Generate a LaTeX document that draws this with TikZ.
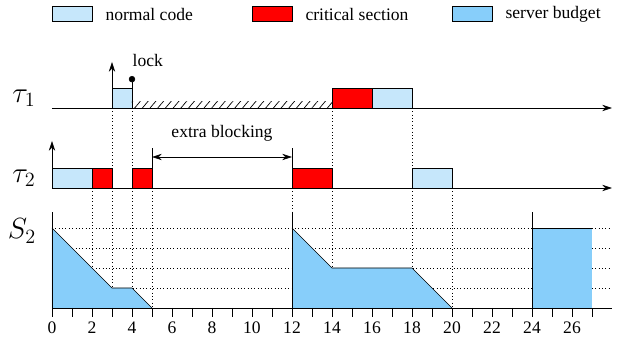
\documentclass[tikz,border=0pt]{standalone}
\usepackage{fontspec}
\newfontfamily\timesfont{LiberationSerif}[Extension=.ttf, UprightFont=*-Regular]
\usetikzlibrary{arrows.meta}
\usetikzlibrary{positioning}
\usetikzlibrary{patterns.meta}

\definecolor{normalblue}{RGB}{198,231,251}
\definecolor{budgetblue}{RGB}{135,206,250}
\definecolor{critred}{RGB}{255,0,0}

\begin{document}
\begin{tikzpicture}[x=0.5cm, y=0.5cm,
      normal/.style={draw=black, fill=normalblue},
      critical/.style={draw=black, fill=critred},
      budget/.style={fill=budgetblue},
      key/.style={rectangle, minimum width=1cm, minimum height=0.38cm, inner sep=0pt},
      axis/.style={-{Stealth[length=7pt, width=4.5pt]}},
      guide/.style={dotted},
      txt/.style={font=\timesfont\fontsize{12.5}{14}\selectfont},
      task/.style={font=\fontsize{20}{22}\selectfont},
      arrow/.style={{Stealth[length=7pt, width=4.5pt]}-{Stealth[length=7pt, width=4.5pt]}}
      ]

      \useasboundingbox (-2.6,-1.7) rectangle (28.5,15.4);

      % Legend
      \node[key, normal, anchor=west] (keynormal) at (0,14.7) {};
      \node[txt, right=0.2cm of keynormal] (txtnormal) {normal code};
      \node[key, critical, anchor=west] (keycrit) at (10,14.7) {};
      \node[txt, right=0.2cm of keycrit] (txtcrit) {critical section};
      \node[key, budget, draw=black, anchor=west] (keybudget) at (20,14.7) {};
      \node[txt, right=0.2cm of keybudget] (txtbudget) {server budget};

      % Task labels
      \node[task] (tau1) at (-1.4,10.5) {$\tau_1$};
      \node[task] (tau2) at (-1.4,6.5) {$\tau_2$};
      \node[task] (srv) at (-1.5,3.85) {$S_2$};

      % Axis points
      \coordinate (t1start) at (0,10);
      \coordinate (t1end) at (28,10);
      \coordinate (t2start) at (0,6);
      \coordinate (t2end) at (28,6);
      \coordinate (s2start) at (0,0);
      \coordinate (s2end) at (28,0);

      % Guides
      \foreach \l in {1,...,4}
        \draw[guide] (0,\l) -- (28,\l);
      \foreach \t in {3,4,14,18}
        \draw[guide] (\t,10) -- (\t,6);
      \foreach \t/\b in {2/2,3/1,4/1,5/0,14/2,18/2,20/0}
        \draw[guide] (\t,6) -- (\t,\b);
      \draw[guide] (12,6) -- (12,4.8);

      % Budget
      \fill[budget] (0,0) -- (0,4) -- (3,1) -- (4,1) -- (5,0) -- cycle;
      \fill[budget] (12,0) -- (12,4) -- (14,2) -- (18,2) -- (20,0) -- cycle;
      \fill[budget] (24,0) rectangle (27,4);
      \draw (0,4) -- (3,1) -- (4,1) -- (5,0);
      \draw (12,4) -- (14,2) -- (18,2) -- (20,0);
      \draw (24,4) -- (27,4);
      \foreach \t in {0,12,24}
        \draw (\t,0) -- (\t,4.8);

      % Task 1
      \draw[normal] (3,10) rectangle (4,11);
      \fill[pattern={Lines[angle=50, distance=4.2pt, line width=0.5pt]}] (4,10) rectangle (14,10.32);
      \draw[critical] (14,10) rectangle (16,11);
      \draw[normal] (16,10) rectangle (18,11);

      % Task 2
      \draw[normal] (0,6) rectangle (2,7);
      \draw[critical] (2,6) rectangle (3,7);
      \draw[critical] (4,6) rectangle (5,7);
      \draw[critical] (12,6) rectangle (14,7);
      \draw[normal] (18,6) rectangle (20,7);

      % Time axis
      \foreach \t in {0,...,27}
        \draw (\t,0) -- (\t,-0.45);
      \foreach \t in {0,2,...,26}
        \node[txt] (tick\t) at (\t,-1) {\t};

      % Arrows
      \draw[axis] (t1start) -- (t1end);
      \draw[axis] (t2start) -- (t2end);
      \draw (s2start) -- (s2end);

      \coordinate (rel1) at (3,12.3);
      \coordinate (rel2) at (0,8.35);
      \draw[axis] (t1start -| rel1) -- (rel1);
      \draw[axis] (t2start) -- (rel2);

      \coordinate (lockdot) at (4,11.6);
      \draw[-{Circle[length=4.5pt]}] (t1start -| lockdot) -- (lockdot);
      \node[txt, anchor=west, inner sep=1pt] (locklbl) at (3.95,12.4) {lock};

      \coordinate (blkleft) at (5,7.55);
      \coordinate (blkright) at (12,7.55);
      \draw (5,7) -- (5,8);
      \draw (12,7) -- (12,8);
      \draw[arrow] (blkleft) -- (blkright);
      \node[txt] (blklbl) at (8.5,8.75) {extra blocking};

\end{tikzpicture}
\end{document}
